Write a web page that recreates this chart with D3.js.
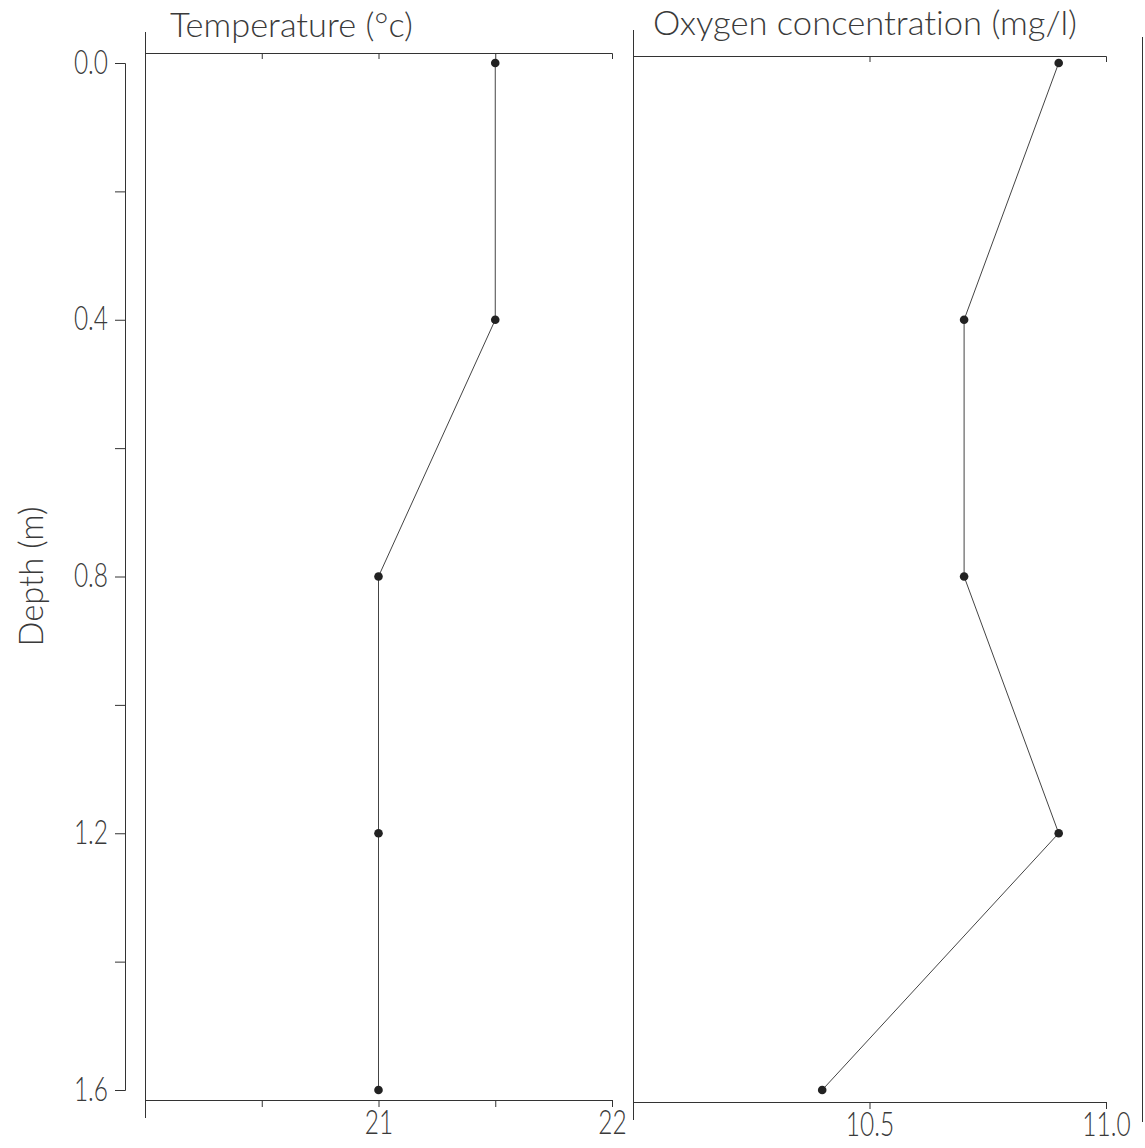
<!DOCTYPE html>
<html>
<head>
<meta charset="utf-8">
<script src="https://cdn.jsdelivr.net/npm/d3@7"></script>
<style>
  html, body { margin: 0; padding: 0; background: #fff; }
  svg { display: block; }
  text { font-family: Lato, "DejaVu Sans", sans-serif; font-weight: 300; fill: #3a3a3a;
         font-variant-ligatures: none; font-feature-settings: "liga" 0, "clig" 0; }
</style>
</head>
<body>
<script>
// ---- data ----
const depth = [0, 0.4, 0.8, 1.2, 1.6];
const temperature = [21.5, 21.5, 21.0, 21.0, 21.0];
const oxygen = [10.9, 10.7, 10.7, 10.9, 10.4];

const depthTicks = [0, 0.2, 0.4, 0.6, 0.8, 1.0, 1.2, 1.4, 1.6];
const depthLabels = [0, 0.4, 0.8, 1.2, 1.6];
const tempTopTicks = [20.5, 21, 21.5];
const tempBottomTicks = [20.5, 21, 21.5, 22];
const tempLabels = [21, 22];
const oxyTopTicks = [10.5];
const oxyBottomTicks = [10.5, 11];
const oxyLabels = [10.5, 11];

const titleTemp = "Temperature (°c)";
const titleOxy = "Oxygen concentration (mg/l)";
const yTitle = "Depth (m)";

// ---- layout ----
const W = 1145, H = 1148;
const FS = 34, SX = 0.72;
const ink = "#333";

const svg = d3.select("body").append("svg").attr("width", W).attr("height", H);

const y = d3.scaleLinear().domain([0, 1.6]).range([63, 1090]);

// y axis
const gy = svg.append("g").attr("transform", "translate(125,0)")
  .call(d3.axisLeft(y).tickValues(depthTicks).tickSize(10).tickSizeOuter(10).tickPadding(7)
    .tickFormat(d => depthLabels.includes(d) ? d3.format(".1f")(d) : ""));
gy.selectAll("path,line").attr("stroke", ink);
gy.selectAll("text").attr("font-size", FS).attr("font-family", null)
  .attr("x", -17 / SX).attr("transform", `scale(${SX},1)`).attr("dy", "0.3em");

// y title
svg.append("text")
  .attr("transform", `translate(43,${y(0.8)}) rotate(-90)`)
  .attr("text-anchor", "middle").attr("font-size", FS)
  .attr("textLength", 140).attr("lengthAdjust", "spacingAndGlyphs")
  .text(yTitle);

function panel(values, domain, range, topY, botY, vTop, vBot, topTicks, botTicks, labels, fmt, title, titleX, titleY, titleLen) {
  const x = d3.scaleLinear().domain(domain).range(range);
  // left vertical frame line
  svg.append("line").attr("x1", range[0] + 0.5).attr("x2", range[0] + 0.5)
    .attr("y1", vTop).attr("y2", vBot).attr("stroke", ink);
  // top axis
  const gt = svg.append("g").attr("transform", `translate(0,${topY})`)
    .call(d3.axisBottom(x).tickValues(topTicks).tickSize(6).tickSizeOuter(6).tickFormat(""));
  gt.selectAll("path,line").attr("stroke", ink);
  // bottom axis
  const gb = svg.append("g").attr("transform", `translate(0,${botY})`)
    .call(d3.axisBottom(x).tickValues(botTicks).tickSize(7).tickSizeOuter(7).tickPadding(3)
      .tickFormat(d => labels.includes(d) ? fmt(d) : ""));
  gb.selectAll("path,line").attr("stroke", ink);
  gb.selectAll("text").attr("font-size", FS).attr("font-family", null)
    .attr("transform", `scale(${SX},1)`);
  // data line
  const pts = depth.map((dp, i) => ({ d: dp, v: values[i] }));
  svg.append("path").datum(pts)
    .attr("fill", "none").attr("stroke", "#444").attr("stroke-width", 1)
    .attr("d", d3.line().x(p => x(p.v)).y(p => y(p.d)));
  svg.append("g").selectAll("circle").data(pts).join("circle")
    .attr("cx", p => x(p.v)).attr("cy", p => y(p.d)).attr("r", 4.3).attr("fill", "#222");
  // title
  svg.append("text").attr("x", titleX).attr("y", titleY).attr("font-size", FS)
    .attr("textLength", titleLen).attr("lengthAdjust", "spacingAndGlyphs")
    .text(title);
}

panel(temperature, [20, 22], [145, 612], 53, 1100, 32, 1118,
  tempTopTicks, tempBottomTicks, tempLabels, d3.format("d"), titleTemp, 170, 37, 243);
panel(oxygen, [10, 11], [633, 1106], 56, 1102, 30, 1120,
  oxyTopTicks, oxyBottomTicks, oxyLabels, d3.format(".1f"), titleOxy, 653, 35, 424);

// edge of the next panel
svg.append("line").attr("x1", 1142.5).attr("x2", 1142.5).attr("y1", 37).attr("y2", 1122).attr("stroke", ink);
</script>
</body>
</html>
